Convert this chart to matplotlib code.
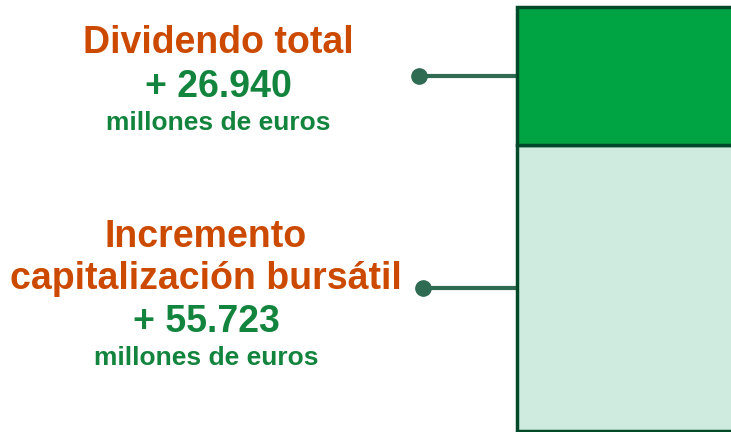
import matplotlib
matplotlib.use('Agg')
from matplotlib import pyplot as plt

# valores (millones de euros)
segments = ["Incremento capitalización bursátil", "Dividendo total"]
values = [55.723, 26.940]
value_labels = ["+ 55.723", "+ 26.940"]
titles = [["Incremento", "capitalización bursátil"], ["Dividendo total"]]
unit = "millones de euros"

face_colors = ["#CFEADF", "#00A443"]
edge_color = "#004A2A"
link_color = "#2F6B52"
orange = "#CC4A00"
green_txt = "#13843D"

W, H = 731, 432
fig = plt.figure(figsize=(W / 100, H / 100), dpi=100)
ax = fig.add_axes([0, 0, 1, 1])
total = sum(values)
scale = (431 - 7) / total  # px per unit
ax.set_xlim(0, W)
ax.set_ylim(-(H - 431) / scale, total + 7 / scale)
ax.axis('off')

plt.rcParams['font.family'] = ['Liberation Sans', 'DejaVu Sans']

bottom = 0
mids = []
for v, fc in zip(values, face_colors):
	ax.bar(517, v, width=400, bottom=bottom, align='edge', color=fc,
		edgecolor=edge_color, linewidth=2.5, zorder=2)
	mids.append(bottom + v / 2)
	bottom += v

# conectores
dot_x = [423, 419]
for dx, m in zip(dot_x, mids):
	ax.plot([dx, 517], [m, m], color=link_color, lw=3, zorder=1)
	ax.plot(dx, m, 'o', color=link_color, ms=11, zorder=3)

def ypx(p):
	# pixel from top -> data y
	return total + 7 / scale - p / scale

big = 27
small = 19

# textos (baseline)
ax.text(218, ypx(53), titles[1][0], ha='center', va='baseline', color=orange,
	fontsize=big, fontweight='bold')
ax.text(218, ypx(97), value_labels[1], ha='center', va='baseline', color=green_txt,
	fontsize=big, fontweight='bold')
ax.text(218, ypx(130), unit, ha='center', va='baseline', color=green_txt,
	fontsize=small, fontweight='bold')

ax.text(206, ypx(247), titles[0][0], ha='center', va='baseline', color=orange,
	fontsize=big, fontweight='bold')
ax.text(206, ypx(289), titles[0][1], ha='center', va='baseline', color=orange,
	fontsize=big, fontweight='bold')
ax.text(206, ypx(332), value_labels[0], ha='center', va='baseline', color=green_txt,
	fontsize=big, fontweight='bold')
ax.text(206, ypx(365), unit, ha='center', va='baseline', color=green_txt,
	fontsize=small, fontweight='bold')

fig.savefig('out.png', dpi=100)
